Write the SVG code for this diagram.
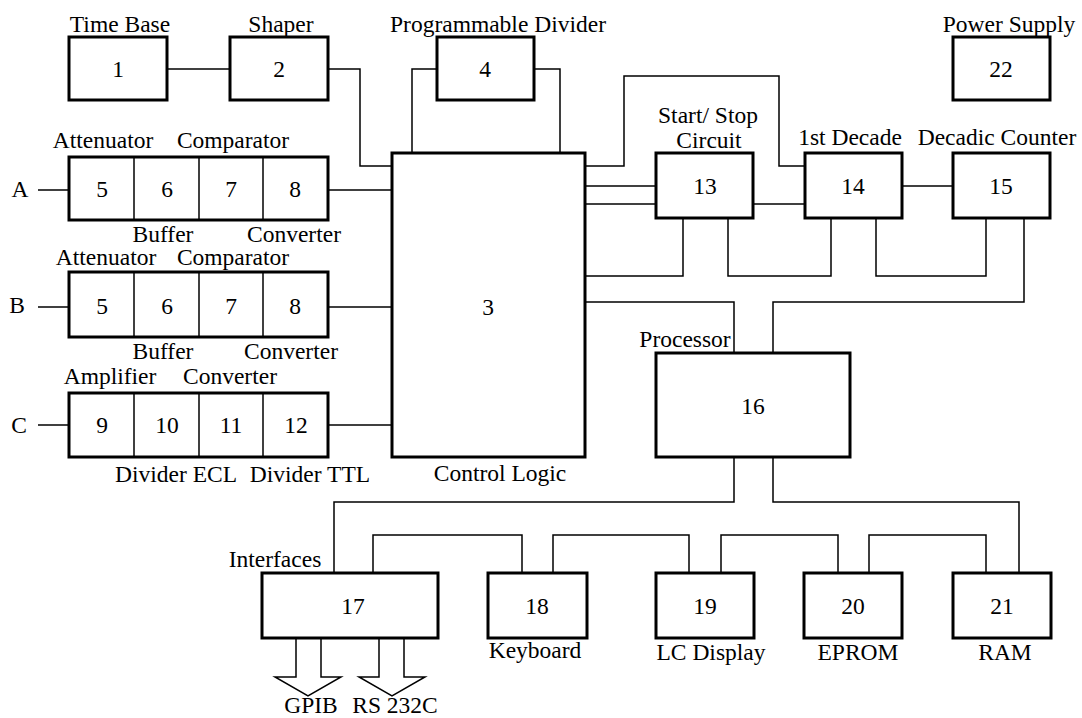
<svg xmlns="http://www.w3.org/2000/svg" width="1082" height="718" viewBox="0 0 1082 718" font-family="'Liberation Serif', 'Times New Roman', serif">
<style>
.box{fill:#fff;stroke:#000;stroke-width:3}
.div{stroke:#000;stroke-width:1.5}
.wire{fill:none;stroke:#000;stroke-width:1.5}
.arr{fill:#fff;stroke:#000;stroke-width:1.5;stroke-linejoin:miter}
text{font-family:"Liberation Serif","Times New Roman",serif;font-size:23.5px;fill:#000;text-anchor:middle}
</style>
<rect width="1082" height="718" fill="#fff"/>
<g id="connectors">
<path class="wire" d="M167,69 H230"/>
<path class="wire" d="M328,69 H360 V166 H392"/>
<path class="wire" d="M38,190 H69"/>
<path class="wire" d="M38,307 H69"/>
<path class="wire" d="M38,425 H69"/>
<path class="wire" d="M328,190 H392"/>
<path class="wire" d="M328,307 H392"/>
<path class="wire" d="M328,425 H392"/>
<path class="wire" d="M437,69 H412 V153"/>
<path class="wire" d="M534,69 H560 V153"/>
<path class="wire" d="M585,166 H624 V76 H779 V166 H805"/>
<path class="wire" d="M585,186 H656"/>
<path class="wire" d="M585,204 H656"/>
<path class="wire" d="M753,204 H805"/>
<path class="wire" d="M902,186 H953"/>
<path class="wire" d="M683,218 V276 H585"/>
<path class="wire" d="M728,218 V276 H831 V218"/>
<path class="wire" d="M876,218 V276 H986 V218"/>
<path class="wire" d="M1024,218 V302 H773 V353"/>
<path class="wire" d="M585,302 H734 V353"/>
<path class="wire" d="M734,457 V502 H334 V573"/>
<path class="wire" d="M773,457 V502 H1019 V573"/>
<path class="wire" d="M373,573 V535 H522 V573"/>
<path class="wire" d="M553,573 V535 H689 V573"/>
<path class="wire" d="M721,573 V535 H838 V573"/>
<path class="wire" d="M869,573 V535 H986 V573"/>
<polygon class="arr" points="296,638 296,677 275,677 308,696 341,677 321,677 321,638"/>
<polygon class="arr" points="379,638 379,677 359,677 392,696 425,677 404,677 404,638"/>
</g>
<g id="n1"><rect class="box" x="69" y="37" width="98" height="63"/><text x="118" y="77">1</text><text x="120" y="32">Time Base</text></g>
<g id="n2"><rect class="box" x="230" y="37" width="98" height="63"/><text x="279" y="77">2</text><text x="281" y="32">Shaper</text></g>
<g id="n4"><rect class="box" x="437" y="37" width="97" height="63"/><text x="485" y="77">4</text><text x="498" y="32">Programmable Divider</text></g>
<g id="n22"><rect class="box" x="953" y="37" width="97" height="63"/><text x="1001" y="77">22</text><text x="1009" y="32">Power Supply</text></g>
<g id="rowA">
<rect class="box" x="69" y="157" width="259" height="63"/>
<line class="div" x1="134" y1="157" x2="134" y2="220"/><line class="div" x1="199" y1="157" x2="199" y2="220"/><line class="div" x1="263" y1="157" x2="263" y2="220"/>
<text x="102" y="197">5</text><text x="167" y="197">6</text><text x="231" y="197">7</text><text x="295" y="197">8</text>
<text x="103" y="148">Attenuator</text><text x="233" y="148">Comparator</text>
<text x="163" y="242">Buffer</text><text x="294" y="242">Converter</text>
<text x="20" y="197">A</text>
</g>
<g id="rowB">
<rect class="box" x="69" y="272" width="259" height="65"/>
<line class="div" x1="134" y1="272" x2="134" y2="337"/><line class="div" x1="199" y1="272" x2="199" y2="337"/><line class="div" x1="263" y1="272" x2="263" y2="337"/>
<text x="102" y="314">5</text><text x="167" y="314">6</text><text x="231" y="314">7</text><text x="295" y="314">8</text>
<text x="106" y="265">Attenuator</text><text x="233" y="265">Comparator</text>
<text x="163" y="359">Buffer</text><text x="291" y="359">Converter</text>
<text x="17" y="313">B</text>
</g>
<g id="rowC">
<rect class="box" x="69" y="393" width="259" height="64"/>
<line class="div" x1="134" y1="393" x2="134" y2="457"/><line class="div" x1="199" y1="393" x2="199" y2="457"/><line class="div" x1="263" y1="393" x2="263" y2="457"/>
<text x="102" y="433">9</text><text x="167" y="433">10</text><text x="231" y="433">11</text><text x="296" y="433">12</text>
<text x="110" y="384">Amplifier</text><text x="230" y="384">Converter</text>
<text x="176" y="482">Divider ECL</text><text x="310" y="482">Divider TTL</text>
<text x="19" y="433">C</text>
</g>
<g id="n3"><rect class="box" x="392" y="153" width="193" height="304"/><text x="488" y="315">3</text><text x="500" y="481">Control Logic</text></g>
<g id="n13"><rect class="box" x="656" y="153" width="97" height="65"/><text x="705" y="194">13</text><text x="708" y="123">Start/ Stop</text><text x="709" y="148">Circuit</text></g>
<g id="n14"><rect class="box" x="805" y="153" width="97" height="65"/><text x="853" y="194">14</text><text x="850" y="145">1st Decade</text></g>
<g id="n15"><rect class="box" x="953" y="153" width="97" height="65"/><text x="1001" y="194">15</text><text x="997" y="145">Decadic Counter</text></g>
<g id="n16"><rect class="box" x="656" y="353" width="194" height="104"/><text x="753" y="414">16</text><text x="685" y="347">Processor</text></g>
<g id="n17"><rect class="box" x="262" y="573" width="176" height="65"/><text x="353" y="614">17</text><text x="275" y="567">Interfaces</text><text x="311" y="713">GPIB</text><text x="395" y="713">RS 232C</text></g>
<g id="n18"><rect class="box" x="488" y="573" width="99" height="65"/><text x="537" y="614">18</text><text x="535" y="658">Keyboard</text></g>
<g id="n19"><rect class="box" x="656" y="573" width="98" height="65"/><text x="705" y="614">19</text><text x="711" y="660">LC Display</text></g>
<g id="n20"><rect class="box" x="804" y="573" width="98" height="65"/><text x="853" y="614">20</text><text x="858" y="660">EPROM</text></g>
<g id="n21"><rect class="box" x="953" y="573" width="98" height="65"/><text x="1002" y="614">21</text><text x="1005" y="660">RAM</text></g>
</svg>
